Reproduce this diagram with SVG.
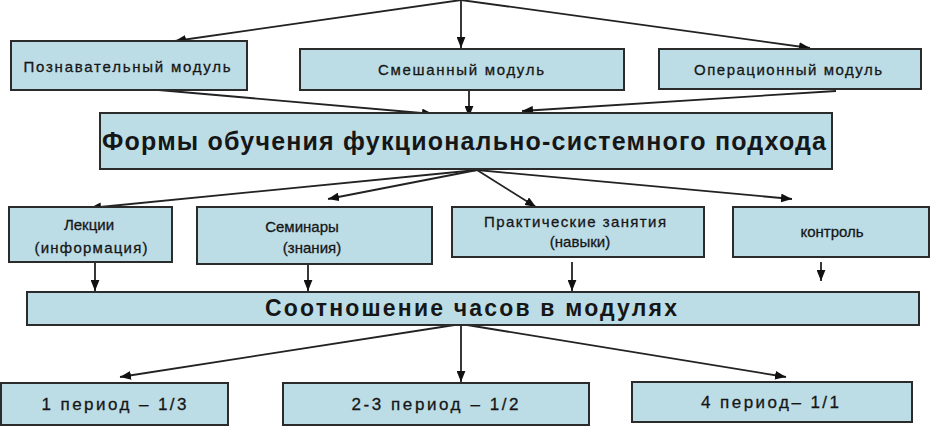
<svg xmlns="http://www.w3.org/2000/svg" width="934" height="426" viewBox="0 0 934 426">
<defs>
<marker id="ah" viewBox="0 0 10 8" refX="10" refY="4" markerWidth="11" markerHeight="9" markerUnits="userSpaceOnUse" orient="auto">
<path d="M0,0 L10,4 L0,8 Z" fill="#111"/>
</marker>
</defs>
<style>
.box{fill:#bcdde6;stroke:#2b2b2b;stroke-width:2}
.t{font-family:"Liberation Sans",Arial,sans-serif;fill:#161616;text-anchor:middle}
.s{font-size:15px;stroke:#161616;stroke-width:0.3}
.m{font-size:17px;stroke:#161616;stroke-width:0.3}
.b{font-weight:bold}
.c{fill:none;stroke:#222;stroke-width:1.8;marker-end:url(#ah)}
</style>
<rect width="934" height="426" fill="#fff"/>
<g id="connectors">
<line class="c" x1="461" y1="0" x2="175" y2="41"/>
<line class="c" x1="461" y1="0" x2="461" y2="48"/>
<line class="c" x1="461" y1="0" x2="810" y2="48"/>
<line class="c" x1="147" y1="89" x2="433" y2="114"/>
<line class="c" x1="469" y1="91" x2="469" y2="117"/>
<line class="c" x1="836" y1="91" x2="522" y2="111"/>
<line class="c" x1="477" y1="170" x2="90" y2="208"/>
<line class="c" x1="477" y1="170" x2="328" y2="199"/>
<line class="c" x1="477" y1="170" x2="536" y2="207"/>
<line class="c" x1="477" y1="170" x2="792" y2="199"/>
<line class="c" x1="95" y1="263" x2="95" y2="291"/>
<line class="c" x1="308" y1="264" x2="308" y2="291"/>
<line class="c" x1="572" y1="262" x2="572" y2="291"/>
<line class="c" x1="821" y1="262" x2="821" y2="281"/>
<line class="c" x1="461" y1="324" x2="120" y2="377"/>
<line class="c" x1="461" y1="324" x2="461" y2="382"/>
<line class="c" x1="461" y1="324" x2="786" y2="377"/>
</g>
<g id="n1"><rect class="box" x="11" y="41" width="236" height="49"/><text class="t s" x="127" y="72" textLength="207" lengthAdjust="spacing">Познавательный модуль</text></g>
<g id="n2"><rect class="box" x="300" y="49" width="324" height="41"/><text class="t s" x="461" y="75" textLength="166" lengthAdjust="spacing">Смешанный модуль</text></g>
<g id="n3"><rect class="box" x="659" y="49" width="262" height="40"/><text class="t s" x="788" y="75" textLength="188" lengthAdjust="spacing">Операционный модуль</text></g>
<g id="n4"><rect class="box" x="100" y="113" width="732" height="56"/><text class="t b" x="464" y="150" font-size="25" textLength="724" lengthAdjust="spacing">Формы обучения фукционально-системного подхода</text></g>
<g id="n5"><rect class="box" x="9" y="207" width="163" height="55"/><text class="t s" x="89" y="230">Лекции</text><text class="t s" x="91" y="253" textLength="113" lengthAdjust="spacing">(информация)</text></g>
<g id="n6"><rect class="box" x="197" y="207" width="235" height="57"/><text class="t s" x="302" y="232">Семинары</text><text class="t s" x="312" y="253">(знания)</text></g>
<g id="n7"><rect class="box" x="452" y="207" width="252" height="50"/><text class="t s" x="575" y="227" textLength="182" lengthAdjust="spacing">Практические занятия</text><text class="t s" x="580" y="247">(навыки)</text></g>
<g id="n8"><rect class="box" x="733" y="207" width="196" height="50"/><text class="t s" x="832" y="237">контроль</text></g>
<g id="n9"><rect class="box" x="27" y="292" width="892" height="33"/><text class="t b" x="471" y="316" font-size="23" textLength="412" lengthAdjust="spacing">Соотношение часов в модулях</text></g>
<g id="n10"><rect class="box" x="1" y="383" width="227" height="42"/><text class="t m" x="114" y="410" textLength="145" lengthAdjust="spacing">1 период – 1/3</text></g>
<g id="n11"><rect class="box" x="283" y="383" width="306" height="42"/><text class="t m" x="435" y="410" textLength="167" lengthAdjust="spacing">2-3 период – 1/2</text></g>
<g id="n12"><rect class="box" x="632" y="382" width="280" height="40"/><text class="t m" x="770" y="408" textLength="138" lengthAdjust="spacing">4 период– 1/1</text></g>
</svg>
